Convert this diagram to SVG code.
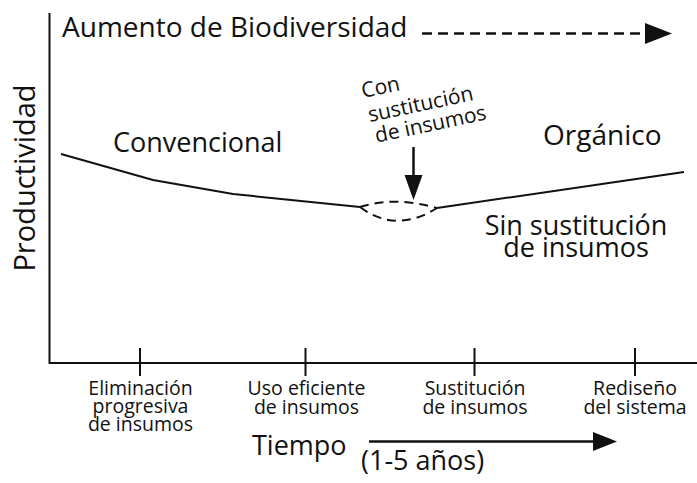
<svg xmlns="http://www.w3.org/2000/svg" width="697" height="483" viewBox="0 0 697 483">
<style>
text{font-family:"Open Sans","Noto Sans","DejaVu Sans",sans-serif;fill:#111}
.big{font-size:27px}
.lab{font-size:19.5px;text-anchor:middle}
.ln{fill:none;stroke:#111;stroke-width:2}
.ds{fill:none;stroke:#111;stroke-width:2;stroke-dasharray:9 6}
.hd{fill:#111}
</style>
<rect width="697" height="483" fill="#fff"/>
<g id="axes">
<path class="ln" d="M49.5,13 V363 H697"/>
<path class="ln" d="M140,348 V376 M305.5,348 V376 M474.5,348 V376 M635,348 V376"/>
<text x="35" y="178" style="font-size:29px;text-anchor:middle" transform="rotate(-90 35 178)">Productividad</text>
</g>
<g id="biodiversidad">
<text x="62" y="37" style="font-size:28px">Aumento de Biodiversidad</text>
</g>
<g id="connectors">
<path class="ds" style="stroke-width:2.5;stroke-dasharray:10 6" d="M422,33.5 H646"/>
<polygon class="hd" points="645,23 672,33.5 645,44"/>
<path class="ln" d="M61,154 L153,180 L233,194 L360,207"/>
<path class="ds" d="M360,207 Q395,196 437,208"/>
<path class="ds" d="M360,207 Q396,234 437,208"/>
<path class="ln" d="M437,208 L684,172"/>
<path class="ln" style="stroke-width:2.5" d="M413.5,147 V176"/>
<polygon class="hd" points="404.5,175 422.5,175 413.5,200"/>
<path class="ln" style="stroke-width:2.5" d="M369,441.5 H594"/>
<polygon class="hd" points="593,432 617,441.5 593,451"/>
</g>
<g id="convencional">
<text class="big" x="113" y="152">Convencional</text>
</g>
<g id="organico">
<text class="big" x="543" y="145" style="font-size:28px">Orgánico</text>
</g>
<g id="sin-sustitucion">
<text class="big" x="576" y="235" text-anchor="middle">Sin sustitución</text>
<text class="big" x="576" y="257" text-anchor="middle">de insumos</text>
</g>
<g id="con-sustitucion" style="font-size:21px;text-anchor:middle">
<text x="382" y="94" transform="rotate(-12 382 94)">Con</text>
<text x="422" y="111" transform="rotate(-12 422 111)">sustitución</text>
<text x="432" y="131" transform="rotate(-12 432 131)">de insumos</text>
</g>
<g id="etapa1">
<text class="lab" x="140.5" y="395">Eliminación</text>
<text class="lab" x="140.5" y="413">progresiva</text>
<text class="lab" x="140.5" y="431">de insumos</text>
</g>
<g id="etapa2">
<text class="lab" x="306.5" y="395">Uso eficiente</text>
<text class="lab" x="306.5" y="414">de insumos</text>
</g>
<g id="etapa3">
<text class="lab" x="475" y="395">Sustitución</text>
<text class="lab" x="475" y="414">de insumos</text>
</g>
<g id="etapa4">
<text class="lab" x="635" y="395">Rediseño</text>
<text class="lab" x="635" y="414">del sistema</text>
</g>
<g id="tiempo">
<text x="252" y="455" style="font-size:27px">Tiempo</text>
<text x="361" y="470" style="font-size:27px">(1-5 años)</text>
</g>
</svg>
